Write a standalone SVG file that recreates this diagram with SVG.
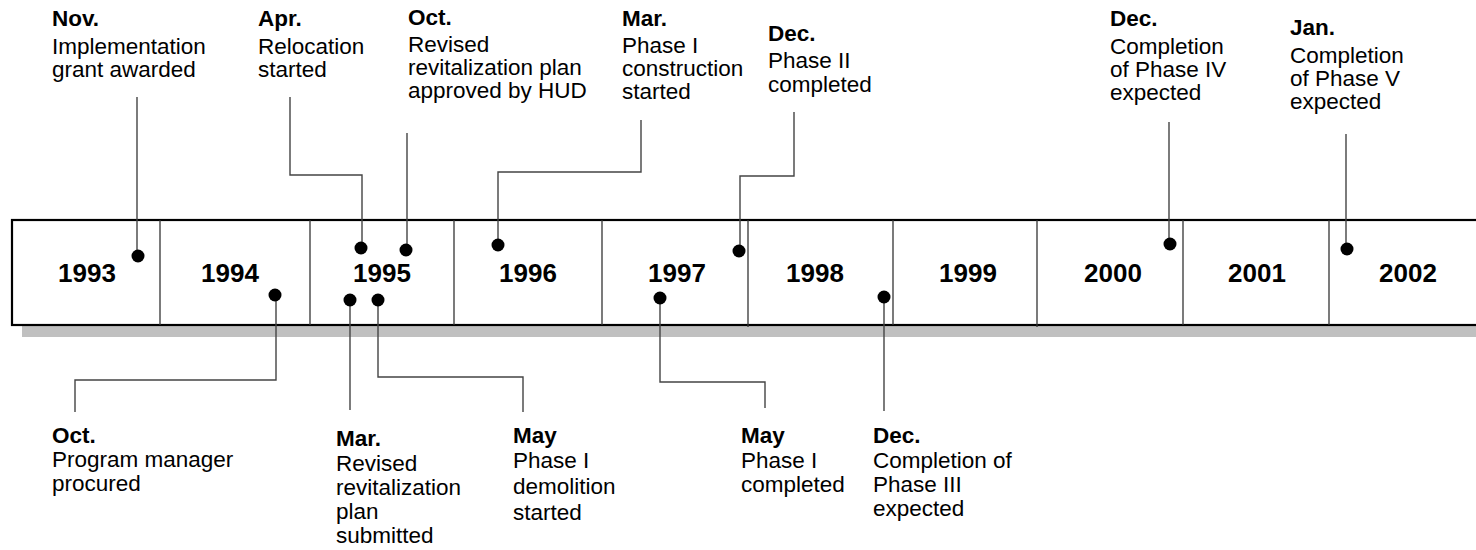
<svg xmlns="http://www.w3.org/2000/svg" width="1476" height="550" viewBox="0 0 1476 550">
  <style>
    text { font-family: "Liberation Sans", Arial, sans-serif; fill: #000; }
    .hd { font-size: 22.5px; font-weight: bold; }
    .tx { font-size: 22.5px; }
    .yr { font-size: 26px; font-weight: bold; text-anchor: middle; }
    .div { stroke: #333; stroke-width: 1.3; }
    .ln { stroke: #444; stroke-width: 1.4; fill: none; }
    .dot { fill: #000; }
  </style>

  <!-- timeline bar with drop shadow -->
  <g id="timeline">
    <rect x="22" y="231" width="1470" height="106" fill="#c0c0c0"/>
    <rect x="12" y="220" width="1470" height="105" fill="#fff" stroke="#000" stroke-width="2.2"/>
    <g class="div">
      <line x1="160" y1="220" x2="160" y2="325"/>
      <line x1="310" y1="220" x2="310" y2="325"/>
      <line x1="454" y1="220" x2="454" y2="325"/>
      <line x1="602" y1="220" x2="602" y2="325"/>
      <line x1="748" y1="220" x2="748" y2="327"/>
      <line x1="893" y1="220" x2="893" y2="325"/>
      <line x1="1037" y1="220" x2="1037" y2="327"/>
      <line x1="1183" y1="220" x2="1183" y2="325"/>
      <line x1="1329" y1="220" x2="1329" y2="325"/>
    </g>
    <text class="yr" x="87" y="282">1993</text>
    <text class="yr" x="230" y="282">1994</text>
    <text class="yr" x="382" y="282">1995</text>
    <text class="yr" x="528" y="282">1996</text>
    <text class="yr" x="677" y="282">1997</text>
    <text class="yr" x="815" y="282">1998</text>
    <text class="yr" x="968" y="282">1999</text>
    <text class="yr" x="1113" y="282">2000</text>
    <text class="yr" x="1257" y="282">2001</text>
    <text class="yr" x="1408" y="282">2002</text>
  </g>

  <!-- leader lines from milestones to the bar -->
  <g id="connectors">
    <polyline class="ln" points="137,97 137,256"/>
    <polyline class="ln" points="290,97 290,175 362,175 362,247"/>
    <polyline class="ln" points="407,133 407,249"/>
    <polyline class="ln" points="641,120 641,172 498,172 498,245"/>
    <polyline class="ln" points="794,112 794,176 740,176 740,251"/>
    <polyline class="ln" points="1169,122 1169,244"/>
    <polyline class="ln" points="1346,134 1346,248"/>
    <polyline class="ln" points="276,295 276,380 75,380 75,412"/>
    <polyline class="ln" points="350,300 350,410"/>
    <polyline class="ln" points="378,300 378,377 523,377 523,412"/>
    <polyline class="ln" points="660,298 660,382 765,382 765,408"/>
    <polyline class="ln" points="884,297 884,411"/>
    <g class="dot">
      <circle cx="138" cy="256" r="6.5"/>
      <circle cx="361" cy="248" r="6.5"/>
      <circle cx="406" cy="250" r="6.5"/>
      <circle cx="498" cy="245" r="6.5"/>
      <circle cx="739" cy="251" r="6.5"/>
      <circle cx="1170" cy="244" r="6.5"/>
      <circle cx="1347" cy="249" r="6.5"/>
      <circle cx="275" cy="295" r="6.5"/>
      <circle cx="350" cy="300" r="6.5"/>
      <circle cx="378" cy="300" r="6.5"/>
      <circle cx="660" cy="298" r="6.5"/>
      <circle cx="884" cy="297" r="6.5"/>
    </g>
  </g>

  <!-- milestones above the bar -->
  <g id="m-1993-nov">
    <text class="hd" x="52" y="26">Nov.</text>
    <text class="tx" x="52" y="54">Implementation</text>
    <text class="tx" x="52" y="77">grant awarded</text>
  </g>
  <g id="m-1995-apr">
    <text class="hd" x="258" y="26">Apr.</text>
    <text class="tx" x="258" y="54">Relocation</text>
    <text class="tx" x="258" y="77">started</text>
  </g>
  <g id="m-1995-oct">
    <text class="hd" x="408" y="25">Oct.</text>
    <text class="tx" x="408" y="52">Revised</text>
    <text class="tx" x="408" y="75">revitalization plan</text>
    <text class="tx" x="408" y="98">approved by HUD</text>
  </g>
  <g id="m-1996-mar">
    <text class="hd" x="622" y="26">Mar.</text>
    <text class="tx" x="622" y="53">Phase I</text>
    <text class="tx" x="622" y="76">construction</text>
    <text class="tx" x="622" y="99">started</text>
  </g>
  <g id="m-1997-dec">
    <text class="hd" x="768" y="41">Dec.</text>
    <text class="tx" x="768" y="68">Phase II</text>
    <text class="tx" x="768" y="92">completed</text>
  </g>
  <g id="m-2000-dec">
    <text class="hd" x="1110" y="26">Dec.</text>
    <text class="tx" x="1110" y="54">Completion</text>
    <text class="tx" x="1110" y="77">of Phase IV</text>
    <text class="tx" x="1110" y="100">expected</text>
  </g>
  <g id="m-2002-jan">
    <text class="hd" x="1290" y="35">Jan.</text>
    <text class="tx" x="1290" y="63">Completion</text>
    <text class="tx" x="1290" y="86">of Phase V</text>
    <text class="tx" x="1290" y="109">expected</text>
  </g>

  <!-- milestones below the bar -->
  <g id="m-1994-oct">
    <text class="hd" x="52" y="443">Oct.</text>
    <text class="tx" x="52" y="467">Program manager</text>
    <text class="tx" x="52" y="491">procured</text>
  </g>
  <g id="m-1995-mar">
    <text class="hd" x="336" y="446">Mar.</text>
    <text class="tx" x="336" y="471">Revised</text>
    <text class="tx" x="336" y="495">revitalization</text>
    <text class="tx" x="336" y="519">plan</text>
    <text class="tx" x="336" y="543">submitted</text>
  </g>
  <g id="m-1995-may">
    <text class="hd" x="513" y="443">May</text>
    <text class="tx" x="513" y="468">Phase I</text>
    <text class="tx" x="513" y="494">demolition</text>
    <text class="tx" x="513" y="520">started</text>
  </g>
  <g id="m-1997-may">
    <text class="hd" x="741" y="443">May</text>
    <text class="tx" x="741" y="468">Phase I</text>
    <text class="tx" x="741" y="492">completed</text>
  </g>
  <g id="m-1998-dec">
    <text class="hd" x="873" y="443">Dec.</text>
    <text class="tx" x="873" y="468">Completion of</text>
    <text class="tx" x="873" y="492">Phase III</text>
    <text class="tx" x="873" y="516">expected</text>
  </g>
</svg>
